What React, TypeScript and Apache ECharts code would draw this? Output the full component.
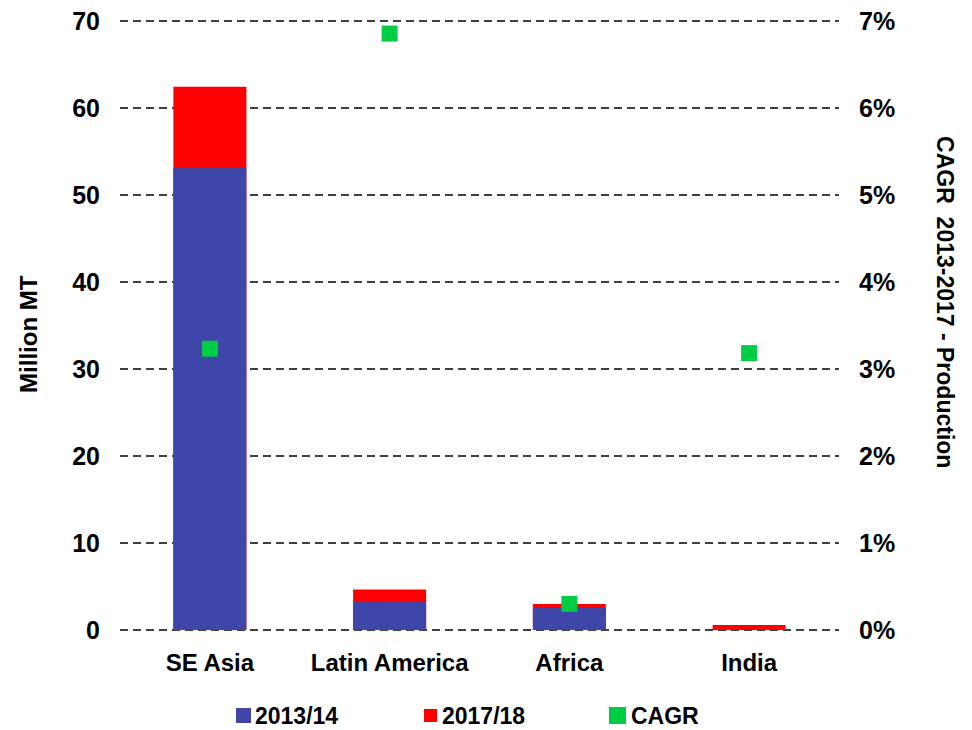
import React, { useEffect, useRef } from "react";
import * as echarts from "echarts";

const categories = ["SE Asia", "Latin America", "Africa", "India"];
const production2013 = [53.1, 3.25, 2.55, 0.1];
const production2017 = [62.4, 4.65, 2.98, 0.57];
const cagr = [3.23, 6.85, 0.3, 3.18];
const leftTicks = [0, 10, 20, 30, 40, 50, 60, 70];
const rightTicks = [0, 1, 2, 3, 4, 5, 6, 7];

const FONT = "'Liberation Sans', Arial, sans-serif";
const BLUE = "#3E46AA";
const RED = "#FF0000";
const GREEN = "#00CC44";

export default function App() {
  const ref = useRef<HTMLDivElement>(null);
  useEffect(() => {
    if (!ref.current) return;
    const chart = echarts.init(ref.current, undefined, { renderer: "svg" });
    const gridLine = {
      show: true,
      lineStyle: { color: "#000", type: [8, 5] as any, width: 1.6 },
    };
    const legendText = { fontFamily: FONT, fontSize: 23, fontWeight: "bold", color: "#000" };
    const legendBase = { top: 696, icon: "rect", itemGap: 0, padding: 0, textStyle: legendText };
    chart.setOption({
      animation: false,
      textStyle: { fontFamily: FONT },
      grid: { left: 112, right: 124, top: 11, bottom: 100, containLabel: false },
      legend: [
        { ...legendBase, left: 228, itemWidth: 13, itemHeight: 13, data: ["2013/14"] },
        { ...legendBase, left: 416, itemWidth: 13, itemHeight: 13, data: ["2017/18"] },
        { ...legendBase, left: 601, itemWidth: 17, itemHeight: 17, data: ["CAGR"] },
      ],
      xAxis: {
        type: "category",
        data: categories,
        axisLine: { show: false },
        axisTick: { show: false },
        axisLabel: { interval: 0, fontFamily: FONT, fontSize: 24, fontWeight: "bold", color: "#000", margin: 20 },
      },
      yAxis: [
        {
          type: "value",
          min: leftTicks[0],
          max: leftTicks[leftTicks.length - 1],
          interval: 10,
          name: "Million MT",
          nameLocation: "middle",
          nameGap: 80,
          nameRotate: 90,
          nameTextStyle: { fontFamily: FONT, fontSize: 24, fontWeight: "bold", color: "#000", padding: [0, 18, 0, 0] },
          axisLine: { show: false },
          axisTick: { show: false },
          axisLabel: { fontFamily: FONT, fontSize: 25, fontWeight: "bold", color: "#000", margin: 20 },
          splitLine: gridLine,
        },
        {
          type: "value",
          min: rightTicks[0],
          max: rightTicks[rightTicks.length - 1],
          interval: 1,
          position: "right",
          name: "CAGR  2013-2017 - Production",
          nameLocation: "middle",
          nameGap: 94,
          nameRotate: -90,
          nameTextStyle: { fontFamily: FONT, fontSize: 23, fontWeight: "bold", color: "#000", padding: [0, 46, 0, 0] },
          axisLine: { show: false },
          axisTick: { show: false },
          axisLabel: {
            fontFamily: FONT,
            fontSize: 25,
            fontWeight: "bold",
            color: "#000",
            margin: 20,
            formatter: (v: number) => `${v}%`,
          },
          splitLine: { show: false },
        },
      ],
      series: [
        {
          name: "2017/18",
          type: "bar",
          data: production2017,
          barWidth: 73,
          barGap: "-100%",
          itemStyle: { color: RED },
          z: 2,
        },
        {
          name: "2013/14",
          type: "bar",
          data: production2013,
          barWidth: 73,
          barGap: "-100%",
          itemStyle: { color: BLUE, borderColor: BLUE, borderWidth: 1 },
          z: 3,
        },
        {
          name: "CAGR",
          type: "scatter",
          yAxisIndex: 1,
          data: cagr,
          symbol: "rect",
          symbolSize: 16,
          itemStyle: { color: GREEN, opacity: 1 },
          z: 5,
        },
      ],
    });
    return () => chart.dispose();
  }, []);
  return <div ref={ref} style={{ width: 956, height: 722 }} />;
}
